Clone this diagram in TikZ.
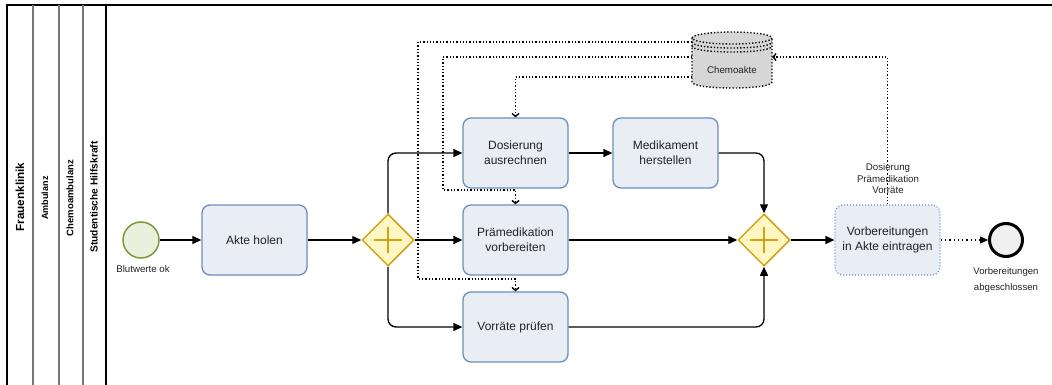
\documentclass[tikz,border=0pt]{standalone}
\usepackage{fontspec}
\setmainfont{Liberation Sans}
\usetikzlibrary{arrows.meta,shapes.geometric}
\definecolor{taskfill}{HTML}{E9EEF5}
\definecolor{taskstroke}{HTML}{6C8EBF}
\definecolor{gwfill}{HTML}{FFF8C4}
\definecolor{gwstroke}{HTML}{D4A20E}
\definecolor{startfill}{HTML}{E9F1DD}
\definecolor{startstroke}{HTML}{7A9A3A}
\definecolor{endfill}{HTML}{F0F0F0}
\definecolor{dbfill}{HTML}{D6D6D6}
\definecolor{txt}{HTML}{222222}
\definecolor{lanegray}{HTML}{777777}
\begin{document}
\begin{tikzpicture}[x=1pt,y=-1pt,
  task/.style={rectangle, rounded corners=8pt, draw=taskstroke, fill=taskfill, line width=1.3pt,
    minimum width=105pt, minimum height=70pt, align=center, text=txt,
    font=\fontsize{12}{15}\selectfont},
  gw/.style={diamond, draw=gwstroke, fill=gwfill, line width=1.5pt, minimum width=52pt,
    minimum height=52pt, inner sep=0pt},
  flow/.style={line width=1.3pt, rounded corners=8pt, -{Triangle[length=9pt,width=8pt]}},
  dots/.style={line width=1.4pt, dash pattern=on 1.3pt off 2pt},
  assoc/.style={dots, -{Straight Barb[length=3pt,width=7pt]}},
  small/.style={font=\fontsize{9.7}{11.5}\selectfont, text=txt, align=center, inner sep=0pt},
  lane/.style={rotate=90, inner sep=0pt}
]
\useasboundingbox (0,0) rectangle (1052,385);
% lanes
\draw[line width=1.5pt] (7,385) -- (7,5) -- (106,5);
\draw[line width=2.5pt] (106,5) -- (1052,5);
\draw[lanegray, line width=1.2pt] (33,5) -- (33,385);
\draw[lanegray, line width=1.2pt] (59,5) -- (59,385);
\draw[lanegray, line width=1.2pt] (83,5) -- (83,385);
\draw[line width=1.5pt] (106,5) -- (106,385);
\node[lane, font=\bfseries\fontsize{11.7}{13}\selectfont] (ln1) at (20,197) {Frauenklinik};
\node[lane, font=\bfseries\fontsize{9}{10}\selectfont] (ln2) at (45,198) {Ambulanz};
\node[lane, font=\bfseries\fontsize{9.5}{11}\selectfont] (ln3) at (70,198) {Chemoambulanz};
\node[lane, font=\bfseries\fontsize{10.2}{12}\selectfont] (ln4) at (94,197) {Studentische Hilfskraft};

% events
\node[circle, draw=startstroke, fill=startfill, line width=1.5pt, minimum size=36pt, inner sep=0pt] (s) at (141,240) {};
\node[small] (sl) at (143,269) {Blutwerte ok};
\node[circle, draw=black, fill=endfill, line width=3pt, minimum size=33pt, inner sep=0pt] (e) at (1006,240) {};
\node[small, font=\fontsize{9.6}{15.5}\selectfont] (el) at (1006,280) {Vorbereitungen\\abgeschlossen};

% tasks
\node[task] (a) at (254.5,240) {Akte holen};
\node[task] (dos) at (515.5,153) {Dosierung\\ausrechnen};
\node[task] (med) at (665.5,153) {Medikament\\herstellen};
\node[task] (pra) at (515.5,240) {Prämedikation\\vorbereiten};
\node[task] (vor) at (515.5,327) {Vorräte prüfen};
\node[task, draw=taskstroke, dash pattern=on 1pt off 2pt, line width=1.2pt] (eint) at (887.5,240) {Vorbereitungen\\in Akte eintragen};

% gateways
\node[gw] (g1) at (388,240) {};
\node[gw] (g2) at (764,240) {};
\foreach \g in {g1,g2}{
  \draw[gwstroke, line width=1.8pt] ([xshift=-14pt]\g.center) -- ([xshift=14pt]\g.center);
  \draw[gwstroke, line width=1.8pt] ([yshift=-13pt]\g.center) -- ([yshift=13pt]\g.center);
}

% data store
\node[minimum width=80pt, minimum height=52pt, inner sep=0pt] (db) at (732,57) {};
\path[fill=dbfill] (692,38) -- (692,82) .. controls (692,90) and (772,90) .. (772,82)
  -- (772,38) .. controls (772,30) and (692,30) .. (692,38) -- cycle;
\begin{scope}[dots]
\draw (692,38) -- (692,82) .. controls (692,90) and (772,90) .. (772,82) -- (772,38);
\draw (732,38) ellipse [x radius=40, y radius=6];
\draw (692,42) .. controls (692,50) and (772,50) .. (772,42);
\draw (692,46) .. controls (692,54) and (772,54) .. (772,46);
\end{scope}
\node[small] (dbl) at (732,70) {Chemoakte};

% sequence flows
\draw[flow] (s) -- (a);
\draw[flow] (a) -- (g1);
\draw[flow] (g1.north) |- (dos.west);
\draw[flow] (g1.east) -- (pra.west);
\draw[flow] (g1.south) |- (vor.west);
\draw[flow] (dos) -- (med);
\draw[flow] (med.east) -| (g2.north);
\draw[flow] (pra) -- (g2);
\draw[flow] (vor.east) -| (g2.south);
\draw[flow] (g2) -- (eint);
\draw[dots, dash pattern=on 1.3pt off 3pt] (eint.east) -- ([xshift=-8pt]e.west);
\draw[line width=1.2pt, -{Triangle[length=8pt,width=7pt]}] ([xshift=-9pt]e.west) -- (e.west);

% data associations
\draw[assoc] ([yshift=15pt]db.west) -| (418,279) -| (vor.north);
\draw[assoc] (db.west) -| (443,190) -| (pra.north);
\draw[assoc] ([yshift=-20pt]db.west) -| (dos.north);
\draw[assoc] (eint.north) |- (db.east);
\node[small] (lbl) at (888,179) {Dosierung\\Prämedikation\\Vorräte};
\end{tikzpicture}
\end{document}
